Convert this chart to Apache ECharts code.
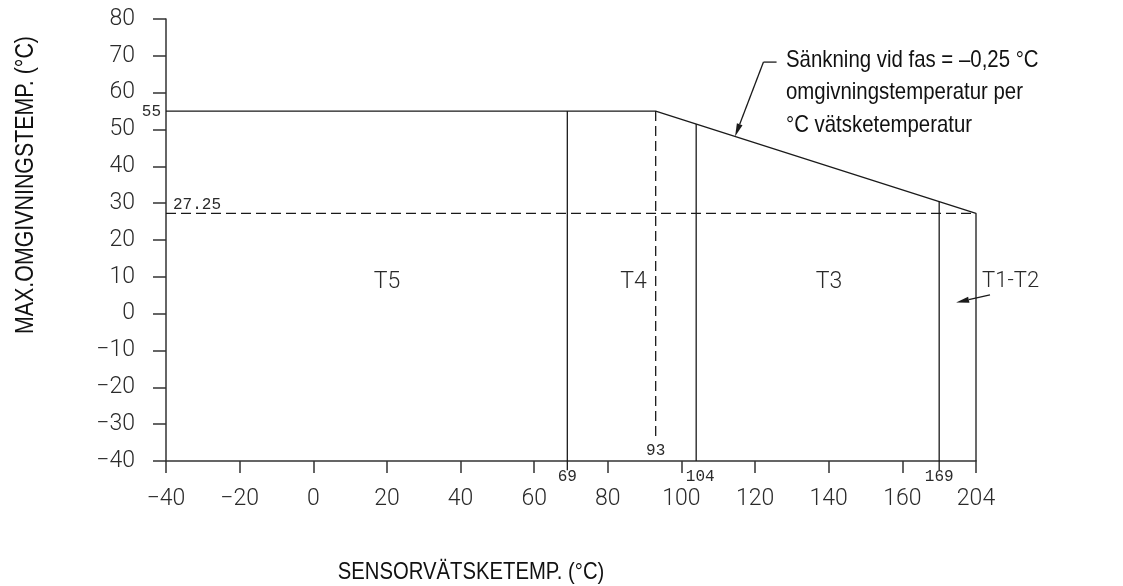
<!DOCTYPE html>
<html><head><meta charset="utf-8">
<script src="https://cdn.jsdelivr.net/npm/echarts@6/dist/echarts.min.js"></script>
<style>html,body{margin:0;padding:0;background:#fff}#c{width:1123px;height:586px}</style>
</head><body><div id="c"></div>
<script>
// ---- data ----
const xTickLabels = ['−40','−20','0','20','40','60','80','100','120','140','160','204'];
const limitX = [-40, 93, 204];          // sensor fluid temp (°C)
const limitY = [55, 55, 27.25];         // max ambient temp (°C)
const zoneBoundX = [69, 104, 169];      // T5|T4, T4|T3, T3|T1-T2
const zoneBoundLabels = ['69', '104', '169'];
const t4DashX = 93;
const t4DashBottom = -34;
const reducedAmbient = 27.25;
const zoneNames = ['T5', 'T4', 'T3'];
const zoneLabelX = [20, 87, 139.5];
const zoneLabelY = [8.5, 8.5, 8.5];
const noteLines = ['Sänkning vid fas = –0,25 °C', 'omgivningstemperatur per', '°C vätsketemperatur'];

// drawing is not to scale beyond 104: break points (real value -> axis position)
const xBreakReal = [-40, 104, 169, 204];
const xBreakAxis = [-40, 104, 170, 180];
function xPos(v){
  let i = 0;
  while (i < xBreakReal.length - 2 && v > xBreakReal[i+1]) i++;
  const r0 = xBreakReal[i], r1 = xBreakReal[i+1], a0 = xBreakAxis[i], a1 = xBreakAxis[i+1];
  return a0 + (v - r0) * (a1 - a0) / (r1 - r0);
}
const limitPts = limitX.map((x,i)=>[xPos(x), limitY[i]]);
function limitAt(ax){
  for (let i=0;i<limitPts.length-1;i++){
    const [x0,y0]=limitPts[i],[x1,y1]=limitPts[i+1];
    if (ax>=x0 && ax<=x1) return y0+(ax-x0)*(y1-y0)/(x1-x0);
  }
  return limitPts[limitPts.length-1][1];
}

const INK = '#1a1a1a';
const tickFont = {fontFamily:'Roboto', fontWeight:300, fontSize:23, color:'#2a2a2a'};
const smallFont = 'Liberation Mono';
const helv = 'Liberation Sans';

function seg(data, dashed){
  return {type:'line', data, symbol:'none', clip:false, silent:true, animation:false,
    lineStyle:{color:INK, width:1.3, type: dashed ? [10,5] : 'solid'}};
}
const series = [];
series.push(seg(limitPts.concat([[xPos(204), -40]]), false));
zoneBoundX.forEach((x,i)=>{
  const ax = xPos(x);
  series.push(seg([[ax, limitAt(ax)], [ax, i===1 ? -40 : -42.5]], false));
});
series.push(seg([[xPos(-40), reducedAmbient], [xPos(204), reducedAmbient]], true));
series.push(seg([[xPos(t4DashX), limitAt(xPos(t4DashX))], [xPos(t4DashX), t4DashBottom]], true));

const chart = echarts.init(document.getElementById('c'), null, {renderer:'canvas'});
const axisCommon = {
  type:'value', splitLine:{show:false},
  axisLine:{show:true, onZero:false, lineStyle:{color:'#333', width:1.5}},
  axisTick:{show:true, inside:false, lineStyle:{color:'#333', width:1.5}},
};
chart.setOption({
  backgroundColor:'#fff',
  animation:false,
  grid:{left:166, right:147, top:19, bottom:125, outerBoundsMode:'none'},
  xAxis:Object.assign({}, axisCommon, {min:-40, max:180, interval:20,
    axisTick:Object.assign({}, axisCommon.axisTick, {length:12}),
    axisLabel:Object.assign({margin:27, formatter:v=>xTickLabels[Math.round((v+40)/20)]}, tickFont)}),
  yAxis:Object.assign({}, axisCommon, {min:-40, max:80, interval:10,
    axisTick:Object.assign({}, axisCommon.axisTick, {length:13}),
    axisLabel:Object.assign({margin:31, formatter:v=>String(v).replace('-','−')}, tickFont)}),
  series
});

function P(xr, y){ return chart.convertToPixel({gridIndex:0}, [xPos(xr), y]); }
function arrowEl(p0, p1){
  const dx=p1[0]-p0[0], dy=p1[1]-p0[1], L=Math.hypot(dx,dy), ux=dx/L, uy=dy/L;
  const len=13, w=3;
  const bx=p1[0]-ux*len, by=p1[1]-uy*len;
  return [
    {type:'line', shape:{x1:p0[0],y1:p0[1],x2:bx,y2:by}, style:{stroke:INK, lineWidth:1.3}, silent:true},
    {type:'polygon', shape:{points:[[p1[0],p1[1]],[bx-uy*w,by+ux*w],[bx+uy*w,by-ux*w]]}, style:{fill:INK}, silent:true}
  ];
}
const g = [];
function txt(x,y,text,font,size,align,vAlign,extra,elExtra){
  g.push(Object.assign({type:'text', x, y, silent:true, style:Object.assign({text, fontFamily:font, fontSize:size, fontWeight:300,
    fill:'#2a2a2a', align, verticalAlign:vAlign}, extra||{})}, elExtra||{}));
}
// zone labels
zoneNames.forEach((n,i)=>{ const p=P(zoneLabelX[i], zoneLabelY[i]); txt(p[0],p[1],n,'Roboto',23,'center','middle'); });
const tp = P(211.7, 8.7); txt(tp[0]-2, tp[1], 'T1-T2', 'Roboto', 22, 'left', 'middle');
g.push(...arrowEl(P(217.3, 5.1), P(185.1, 3.0)));
// boundary value labels
zoneBoundX.forEach((x,i)=>{ const p=P(x,-40); txt(p[0]+(i===1?4:0), p[1]+16, zoneBoundLabels[i], smallFont, 16, 'center','middle', {fontWeight:'normal'}); });
const p93 = P(t4DashX, -40); txt(p93[0], p93[1]-10, '93', smallFont, 16, 'center','middle', {fontWeight:'normal'});
const p55 = P(-40, 55); txt(p55[0]-5, p55[1]+1, '55', smallFont, 16, 'right','middle', {fontWeight:'normal'});
const p27 = P(-40, reducedAmbient); txt(p27[0]+7, p27[1]-1, '27.25', smallFont, 16, 'left','bottom', {fontWeight:'normal'});
// note with leader arrow
const tipAx = xPos(114.4), tip = chart.convertToPixel({gridIndex:0}, [tipAx, limitAt(tipAx)]);
const elbow = P(122, 68.3), lend = P(125.5, 68.3);
g.push({type:'line', shape:{x1:lend[0],y1:lend[1],x2:elbow[0],y2:elbow[1]}, style:{stroke:INK, lineWidth:1.3}, silent:true});
g.push(...arrowEl(elbow, tip));
noteLines.forEach((l,i)=>{
  txt(786, 60+i*32.5, l, helv, 24, 'left', 'middle', {fill:'#111', fontWeight:'normal'}, {scaleX:0.85});
});
// axis titles
txt(471, 572, 'SENSORVÄTSKETEMP. (°C)', helv, 24, 'center', 'middle', {fill:'#111', fontWeight:'normal'}, {scaleX:0.845});
txt(26, 185, 'MAX.OMGIVNINGSTEMP. (°C)', helv, 25, 'center', 'middle', {fill:'#111', fontWeight:'normal'}, {rotation:Math.PI/2, scaleX:0.855});
chart.setOption({graphic:g});
</script></body></html>
